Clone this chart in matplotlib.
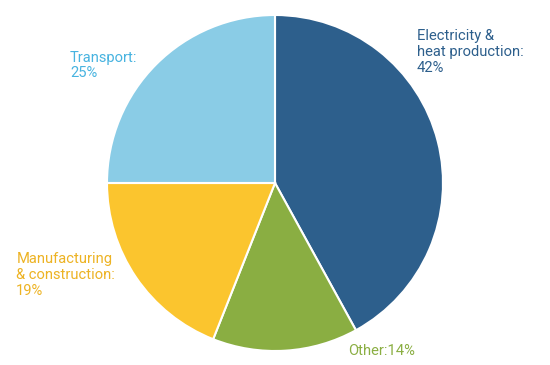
import matplotlib
matplotlib.use("Agg")
import matplotlib.pyplot as plt

labels = ["Electricity &\nheat production:\n42%", "Other:14%",
          "Manufacturing\n& construction:\n19%", "Transport:\n25%"]
values = [42, 14, 19, 25]
colors = ["#2d5f8c", "#8aae42", "#fbc52e", "#8acce6"]
text_colors = ["#2d5f8c", "#8aae42", "#edb324", "#47b3e0"]

plt.rcParams["font.family"] = ["Roboto", "DejaVu Sans"]

fig = plt.figure(figsize=(5.5, 3.65), dpi=100)
ax = fig.add_axes([0, 0, 1, 1])
ax.pie(values, colors=colors, startangle=90, counterclock=False, radius=1,
       wedgeprops={"edgecolor": "white", "linewidth": 1.5})

# label positions in pie-radius units (center at 0,0)
label_pos = [(0.845, 0.78), (0.435, -1.0), (-1.54, -0.548), (-1.22, 0.70)]
for lab, (x, y), c in zip(labels, label_pos, text_colors):
    ax.text(x, y, lab, color=c, fontsize=10.6, ha="left", va="center",
            linespacing=1.15)

ax.set_xlim(-275 / 168, 275 / 168)
ax.set_ylim(-182 / 168, 183 / 168)
ax.set_aspect("equal")
ax.axis("off")
fig.savefig("out.png", dpi=100)
